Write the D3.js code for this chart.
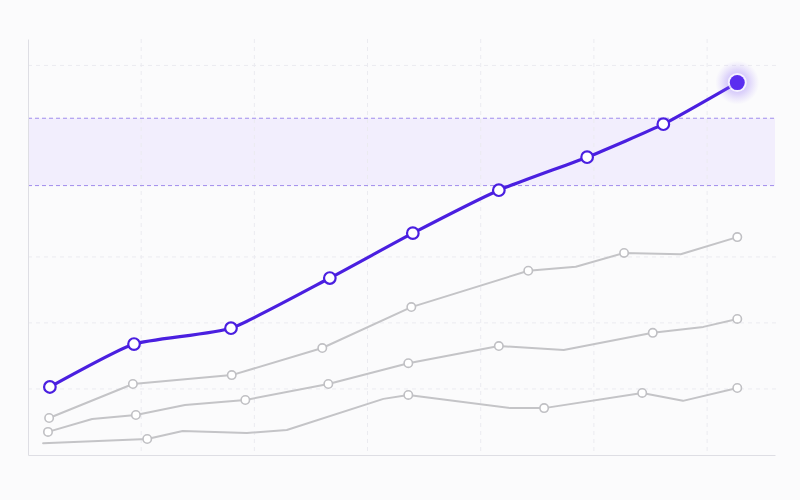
<!DOCTYPE html>
<html>
<head>
<meta charset="utf-8">
<script src="https://cdn.jsdelivr.net/npm/d3@7/dist/d3.min.js"></script>
<style>
  html, body { margin: 0; padding: 0; background: #fbfbfc; }
  svg { display: block; }
</style>
</head>
<body>
<svg id="chart" width="800" height="500"></svg>
<script>
// ---- data ----
const xTicks = [15, 30, 45, 60, 75, 90];
const yTicks = [10, 20, 30, 59];
const bandRange = [40.8, 51.0];

const mainX = [2.9, 14.05, 26.9, 40.0, 51.0, 62.4, 74.1, 84.2, 94.0];
const mainY = [10.3, 16.8, 19.2, 26.8, 33.6, 40.1, 45.1, 50.1, 56.4];

const grayAX = [2.8, 13.9, 27.0, 39.0, 50.8, 66.3, 72.6, 79.0, 86.5, 94.0];
const grayAY = [5.6, 10.75, 12.1, 16.2, 22.4, 27.9, 28.5, 30.6, 30.4, 33.0];
const grayAM = [1, 1, 1, 1, 1, 1, 0, 1, 0, 1];

const grayBX = [2.65, 8.5, 14.3, 20.8, 28.8, 39.8, 50.4, 62.4, 71.0, 82.8, 89.5, 94.0];
const grayBY = [3.5, 5.45, 6.06, 7.57, 8.33, 10.75, 13.9, 16.5, 15.9, 18.5, 19.4, 20.6];
const grayBM = [1, 0, 1, 0, 1, 1, 1, 1, 0, 1, 0, 1];

const grayCX = [2.0, 15.8, 20.5, 29.0, 34.3, 47.1, 50.4, 63.9, 68.4, 81.4, 86.8, 94.0];
const grayCY = [1.77, 2.42, 3.63, 3.33, 3.79, 8.5, 9.1, 7.1, 7.1, 9.4, 8.2, 10.15];
const grayCM = [0, 1, 0, 0, 0, 0, 1, 0, 1, 1, 0, 1];

// ---- layout ----
const svg = d3.select("#chart");
const mLeft = 28, mRight = 775, mTop = 39, mBottom = 455;
const x = d3.scaleLinear().domain([0, 99]).range([mLeft, mRight]);
const y = d3.scaleLinear().domain([0, 63]).range([mBottom, mTop]);

const defs = svg.append("defs");
const grad = defs.append("radialGradient").attr("id", "glow");
grad.append("stop").attr("offset", "0%").attr("stop-color", "#7b55f5").attr("stop-opacity", 0.5);
grad.append("stop").attr("offset", "55%").attr("stop-color", "#8a66f7").attr("stop-opacity", 0.25);
grad.append("stop").attr("offset", "100%").attr("stop-color", "#a58af9").attr("stop-opacity", 0);

svg.append("rect").attr("width", 800).attr("height", 500).attr("fill", "#fbfbfc");

// band
svg.append("rect")
  .attr("x", x(0)).attr("width", x(99) - x(0))
  .attr("y", y(bandRange[1])).attr("height", y(bandRange[0]) - y(bandRange[1]))
  .attr("fill", "#f2eefd");

// grid
const grid = svg.append("g");
grid.selectAll("line.vx").data(xTicks).join("line")
  .attr("x1", d => x(d)).attr("x2", d => x(d))
  .attr("y1", mTop).attr("y2", mBottom)
  .attr("stroke", "#ebebf0").attr("stroke-width", 1).attr("stroke-dasharray", "4,4");
grid.selectAll("line.hy").data(yTicks).join("line")
  .attr("x1", mLeft).attr("x2", mRight + 2)
  .attr("y1", d => y(d)).attr("y2", d => y(d))
  .attr("stroke", "#ebebf0").attr("stroke-width", 1).attr("stroke-dasharray", "4,4");

// band edges
svg.selectAll("line.band").data(bandRange).join("line")
  .attr("x1", mLeft).attr("x2", mRight)
  .attr("y1", d => y(d)).attr("y2", d => y(d))
  .attr("stroke", "#a08cec").attr("stroke-width", 1).attr("stroke-dasharray", "4,3");

// axes
const yAxis = d3.axisLeft(y).tickValues([]).tickSize(0);
const xAxis = d3.axisBottom(x).tickValues([]).tickSize(0);
const ya = svg.append("g").attr("transform", `translate(${mLeft},0)`).call(yAxis);
const xa = svg.append("g").attr("transform", `translate(0,${mBottom})`).call(xAxis);
ya.select(".domain").attr("stroke", "#dedee4");
xa.select(".domain").attr("stroke", "#dedee4");

// gray series
const grays = [
  [grayAX, grayAY, grayAM],
  [grayBX, grayBY, grayBM],
  [grayCX, grayCY, grayCM]
];
const lineLin = d3.line().x(d => x(d.x)).y(d => y(d.y)).curve(d3.curveLinear);
grays.forEach(([xs, ys, ms]) => {
  const pts = xs.map((v, i) => ({ x: v, y: ys[i], m: ms[i] }));
  svg.append("path").datum(pts).attr("d", lineLin)
    .attr("fill", "none").attr("stroke", "#c4c4c7").attr("stroke-width", 2)
    .attr("stroke-linejoin", "round").attr("stroke-linecap", "round");
  svg.append("g").selectAll("circle").data(pts.filter(p => p.m)).join("circle")
    .attr("cx", d => x(d.x)).attr("cy", d => y(d.y)).attr("r", 4.2)
    .attr("fill", "#ffffff").attr("stroke", "#c0c0c4").attr("stroke-width", 1.6);
});

// main series
const mainPts = mainX.map((v, i) => ({ x: v, y: mainY[i] }));
const lineSmooth = d3.line().x(d => x(d.x)).y(d => y(d.y)).curve(d3.curveCardinal.tension(0.5));
svg.append("path").datum(mainPts).attr("d", lineSmooth)
  .attr("fill", "none").attr("stroke", "#4a1fe0").attr("stroke-width", 3.2)
  .attr("stroke-linecap", "round");
svg.append("g").selectAll("circle").data(mainPts.slice(0, -1)).join("circle")
  .attr("cx", d => x(d.x)).attr("cy", d => y(d.y)).attr("r", 5.8)
  .attr("fill", "#ffffff").attr("stroke", "#4a1fe0").attr("stroke-width", 2.2);

const last = mainPts[mainPts.length - 1];
svg.append("circle").attr("cx", x(last.x)).attr("cy", y(last.y)).attr("r", 22).attr("fill", "url(#glow)");
svg.append("circle").attr("cx", x(last.x)).attr("cy", y(last.y)).attr("r", 9.5).attr("fill", "#ffffff").attr("fill-opacity", 0.75);
svg.append("circle").attr("cx", x(last.x)).attr("cy", y(last.y)).attr("r", 7.5).attr("fill", "#5a2df0");
</script>
</body>
</html>
